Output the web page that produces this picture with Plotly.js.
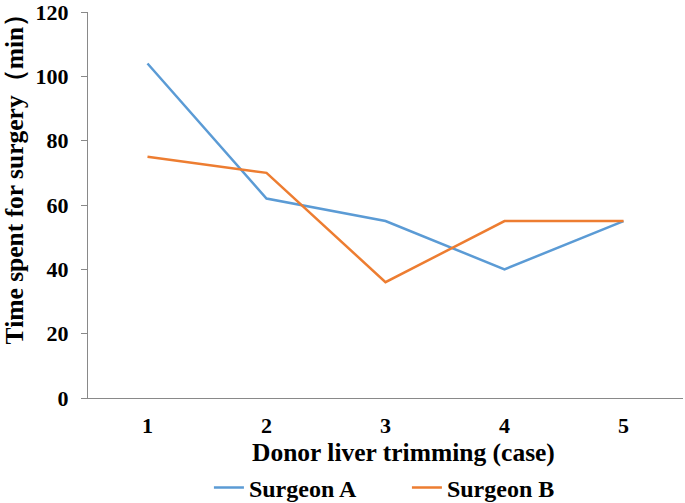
<!DOCTYPE html>
<html>
<head>
<meta charset="utf-8">
<script src="https://cdn.plot.ly/plotly-3.0.1.min.js"></script>
<style>html,body{margin:0;padding:0;background:#fff;}</style>
</head>
<body>
<div id="chart" style="width:685px;height:503px;"></div>
<script>
const cases = ["1", "2", "3", "4", "5"];
const surgeonA = [104, 62, 55, 40, 55];
const surgeonB = [75, 70, 36, 55, 55];
const seriesNames = ["Surgeon A", "Surgeon B"];
const yTicks = [0, 20, 40, 60, 80, 100, 120];
const xTitle = "Donor liver trimming (case)";
const yTitle = "Time spent for surgery（min）";

const fam = "Liberation Serif, Times New Roman, serif";

const traces = [
  {x: cases, y: surgeonA, name: seriesNames[0], type: "scatter", mode: "lines",
   line: {color: "#5B9BD5", width: 2.5}},
  {x: cases, y: surgeonB, name: seriesNames[1], type: "scatter", mode: "lines",
   line: {color: "#ED7D31", width: 2.5}}
];

const layout = {
  width: 685, height: 503,
  margin: {l: 88, r: 2, t: 12, b: 105},
  paper_bgcolor: "#fff", plot_bgcolor: "#fff",
  font: {family: fam, size: 21, color: "#000"},
  showlegend: true,
  legend: {orientation: "h", xref: "container", yref: "container",
           x: 0.305, xanchor: "left", y: 0.03, yanchor: "middle",
           font: {family: fam, size: 24, color: "#000", weight: "bold"},
           entrywidth: 153, entrywidthmode: "pixels", tracegroupgap: 0},
  xaxis: {
    type: "category", range: [-0.5, 4.5], automargin: false,
    showline: true, linecolor: "#898989", linewidth: 1,
    ticks: "", showgrid: false, zeroline: false,
    tickfont: {family: fam, size: 22, color: "#000", weight: "bold"},
    ticklabelstandoff: 8
  },
  yaxis: {
    range: [0, 120], tickvals: yTicks, ticktext: yTicks.map(String), automargin: false,
    ticklabeloverflow: "allow",
    showline: true, linecolor: "#898989", linewidth: 1,
    ticks: "outside", ticklen: 6, tickcolor: "#898989",
    showgrid: false, zeroline: false,
    tickfont: {family: fam, size: 22, color: "#000", weight: "bold"},
    ticklabelstandoff: 8
  },
  annotations: [
    {text: "<b>" + xTitle + "</b>", xref: "paper", yref: "paper",
     x: 0.530, xanchor: "center", y: -0.142, yanchor: "middle",
     showarrow: false, font: {family: fam, size: 25.5, color: "#000"}},
    {text: "<b>" + yTitle + "</b>", xref: "paper", yref: "paper", textangle: -90,
     x: -0.124, xanchor: "center", y: 0.585, yanchor: "middle",
     showarrow: false, font: {family: fam, size: 25.5, color: "#000"}}
  ]
};

Plotly.newPlot("chart", traces, layout, {displayModeBar: false, staticPlot: true});
</script>
</body>
</html>
